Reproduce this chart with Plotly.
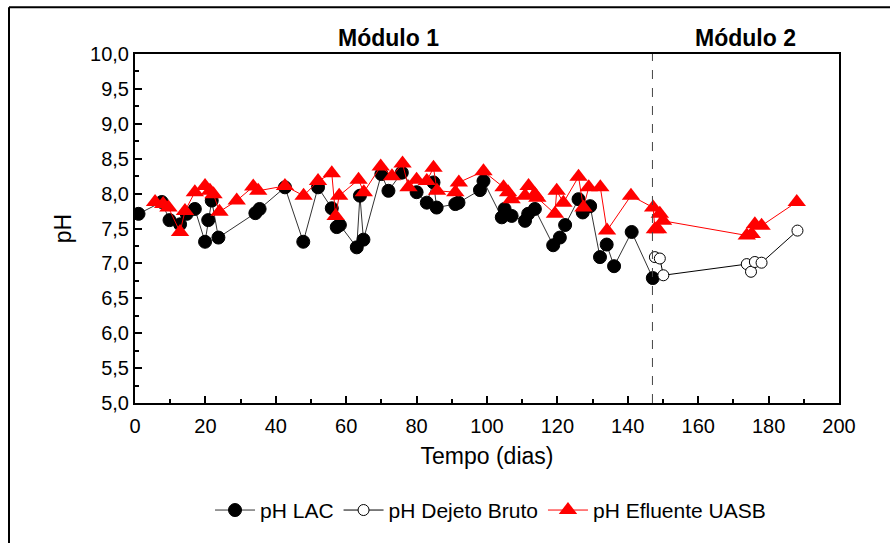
import plotly.graph_objects as go

# pH LAC (black filled circles)
lac_days = [1, 7.6, 9.8, 12.8, 14.7, 17, 19.9, 20.8, 21.8, 23.7, 34.2, 35.4, 42.6, 47.8,
            52, 55.9, 57.3, 58.2, 63, 63.9, 64.9, 70, 72, 75.8, 80, 82.9, 84.8, 85.7,
            91, 91.9, 98, 99, 104.2, 105, 107, 110.8, 111.7, 113.6, 118.8, 120.7, 122.2,
            126, 127.2, 129.3, 132.1, 134, 136.1, 141.1, 147.1]
lac_ph = [7.71, 7.88, 7.62, 7.56, 7.71, 7.78, 7.31, 7.62, 7.90, 7.37, 7.72, 7.78, 8.09, 7.31,
          8.09, 7.79, 7.52, 7.55, 7.23, 7.97, 7.34, 8.28, 8.04, 8.30, 8.02, 7.87, 8.16, 7.80,
          7.85, 7.87, 8.05, 8.18, 7.66, 7.78, 7.68, 7.61, 7.71, 7.78, 7.26, 7.37, 7.55,
          7.92, 7.73, 7.82, 7.09, 7.27, 6.96, 7.45, 6.79]

# pH Dejeto Bruto (open circles)
bruto_days = [147.7, 149.1, 150.1, 173.8, 175, 176.1, 178, 188.2]
bruto_ph = [7.09, 7.07, 6.83, 6.99, 6.88, 7.02, 7.01, 7.47]

# pH Efluente UASB (red triangles)
uasb_days = [5.7, 8, 9.5, 12.8, 14.2, 17, 19.9, 21.3, 22.3, 24, 28.9, 33.6, 35, 42.6, 47.9,
             52, 55.9, 57, 58, 63.5, 65, 69.8, 73, 76, 77.7, 80, 82.9, 84.8, 85.8,
             91, 92, 99, 104.7, 106, 107, 110.8, 111.8, 113.6, 114.3, 119.3, 119.8, 121.7,
             126, 127.4, 128.9, 132.2, 134.1, 140.9, 147.2, 147.7, 148.6, 149.1, 150,
             173.8, 175.2, 176.1, 178, 188]
uasb_ph = [7.88, 7.85, 7.80, 7.45, 7.75, 8.02, 8.11, 8.04, 7.99, 7.74, 7.90, 8.10, 8.04, 8.11, 7.97,
           8.18, 8.29, 7.68, 7.97, 8.20, 8.02, 8.39, 8.25, 8.43, 8.09, 8.20, 8.18, 8.37, 8.04,
           8.02, 8.16, 8.32, 8.09, 8.02, 7.92, 7.97, 8.11, 7.99, 7.94, 7.71, 8.04, 7.87,
           8.24, 7.80, 8.09, 8.09, 7.47, 7.97, 7.80, 7.49, 7.49, 7.71, 7.61,
           7.40, 7.42, 7.56, 7.54, 7.88]

x_ticks = [0, 20, 40, 60, 80, 100, 120, 140, 160, 180, 200]
module_change_day = 147
module_labels = ["Módulo 1", "Módulo 2"]

FONT = "Liberation Sans, Arial, sans-serif"

fig = go.Figure()
fig.add_trace(go.Scatter(
    x=lac_days, y=lac_ph, mode="lines+markers", name="pH LAC",
    line=dict(color="#333333", width=1),
    marker=dict(symbol="circle", size=13, color="black", line=dict(color="black", width=1))))
fig.add_trace(go.Scatter(
    x=bruto_days, y=bruto_ph, mode="lines+markers", name="pH Dejeto Bruto",
    line=dict(color="black", width=1),
    marker=dict(symbol="circle", size=11, color="white", line=dict(color="black", width=1))))
fig.add_trace(go.Scatter(
    x=uasb_days, y=uasb_ph, mode="lines+markers", name="pH Efluente UASB",
    line=dict(color="red", width=1),
    marker=dict(symbol="triangle-up", size=16, color="red", line=dict(color="red", width=0))))

W, H = 890, 543
L, R, T, B = 135, 51, 54, 138
pw, ph = W - L - R, H - T - B

def px_x(p):
    return (p - L) / pw

def px_y(p):
    return (H - B - p) / ph

shapes = [
    dict(type="line", xref="x", yref="paper", x0=module_change_day, x1=module_change_day,
         y0=0, y1=1, line=dict(color="#444444", width=1, dash="dash")),
    # outer frame (left and top)
    dict(type="line", xref="paper", yref="paper", x0=px_x(9), x1=px_x(9),
         y0=px_y(7), y1=px_y(560), line=dict(color="black", width=2)),
    dict(type="line", xref="paper", yref="paper", x0=px_x(9), x1=px_x(900),
         y0=px_y(7), y1=px_y(7), line=dict(color="black", width=2)),
]

annotations = [
    dict(text="<b>%s</b>" % module_labels[0], x=72, y=px_y(38), xref="x", yref="paper",
         xanchor="center", yanchor="middle", showarrow=False,
         font=dict(size=23, family=FONT, color="black")),
    dict(text="<b>%s</b>" % module_labels[1], x=173.3, y=px_y(38), xref="x", yref="paper",
         xanchor="center", yanchor="middle", showarrow=False,
         font=dict(size=23, family=FONT, color="black")),
]

fig.update_layout(
    width=W, height=H,
    margin=dict(l=L, r=R, t=T, b=B, pad=0),
    paper_bgcolor="white", plot_bgcolor="white",
    separators=",.",
    font=dict(family=FONT, color="black"),
    showlegend=True,
    legend=dict(orientation="h", x=0.505, xanchor="center", y=px_y(513), yanchor="middle",
                font=dict(size=21, family=FONT, color="black"), itemwidth=40,
                traceorder="normal", bgcolor="rgba(0,0,0,0)"),
    shapes=shapes, annotations=annotations,
    xaxis=dict(range=[0, 200], tickvals=x_ticks, ticks="inside", ticklen=7, tickwidth=2,
               tickcolor="black", showline=True, linecolor="black", linewidth=2, mirror=True,
               showgrid=False, zeroline=False, ticklabelstandoff=4,
               minor=dict(ticks="inside", ticklen=4, tickwidth=1.5, dtick=10, tickcolor="black", showgrid=False),
               tickfont=dict(size=20, family=FONT, color="black"),
               title=dict(text="Tempo (dias)", font=dict(size=23, family=FONT, color="black"), standoff=12)),
    yaxis=dict(range=[5, 10], dtick=0.5, tick0=5, tickformat=".1f", ticks="inside", ticklen=7, tickwidth=2,
               tickcolor="black", showline=True, linecolor="black", linewidth=2, mirror=True,
               showgrid=False, zeroline=False,
               minor=dict(ticks="inside", ticklen=4, tickwidth=1.5, dtick=0.25, tickcolor="black", showgrid=False),
               tickfont=dict(size=20, family=FONT, color="black"),
               title=dict(text="pH", font=dict(size=23, family=FONT, color="black"), standoff=12)),
)

fig.write_html("out.html")
